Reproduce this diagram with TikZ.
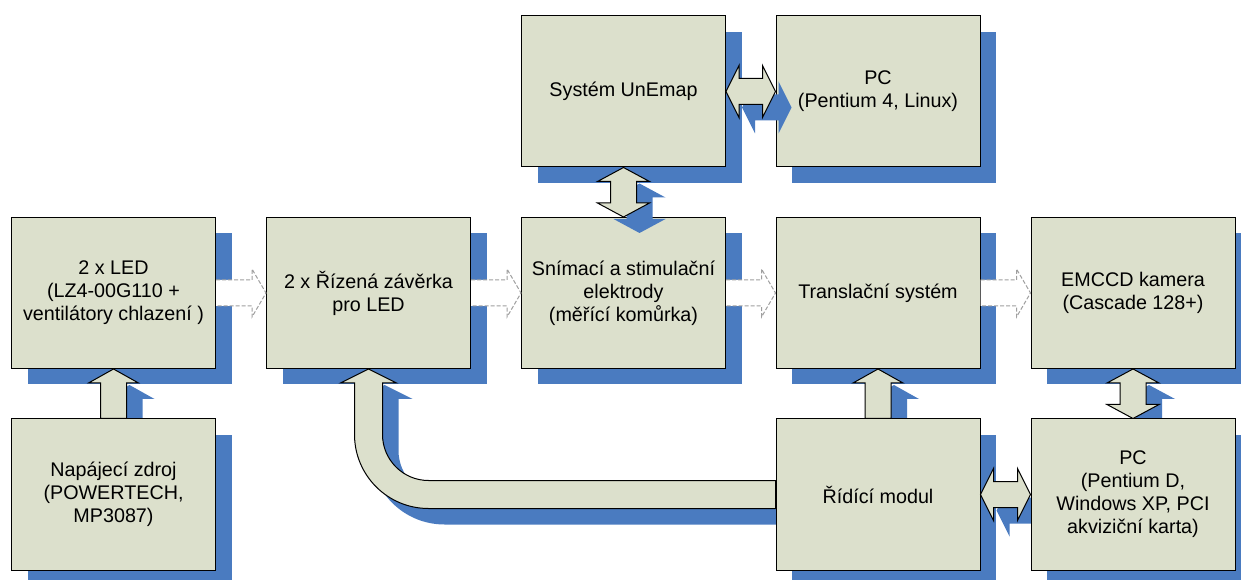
\documentclass[tikz,border=0pt]{standalone}
\usepackage{fontspec}
\setmainfont{Liberation Sans}
\usetikzlibrary{calc,shadows}
\definecolor{boxfill}{RGB}{220,224,204}
\definecolor{shadowblue}{RGB}{74,123,192}
\pgfdeclarelayer{base}
\pgfdeclarelayer{arrA}
\pgfdeclarelayer{mid}
\pgfdeclarelayer{arrB}
\pgfsetlayers{base,arrA,mid,arrB,main}
\newcommand\shadowed[1]{%
  \begin{scope}[transform canvas={shift={(12pt,-12pt)}}]\fill[shadowblue] #1;\end{scope}%
  \filldraw[blk] #1;}
\begin{document}
\begin{tikzpicture}[x=0.75pt,y=-0.75pt,
  box/.style={draw=black, line width=0.75pt, fill=boxfill,
    minimum width=153pt, minimum height=113.25pt, align=center, inner sep=0pt,
    font=\fontsize{14.8}{17.25}\selectfont,
    general shadow={fill=shadowblue, shadow xshift=12pt, shadow yshift=-12pt}},
  blk/.style={draw=black, line width=0.75pt, fill=boxfill, line join=miter},
  dasharrow/.style={fill=white, draw=gray!75, dash pattern=on 3pt off 1.5pt, line width=0.75pt}]
\useasboundingbox (0,0) rectangle (1241,580);
% boxes
\begin{pgfonlayer}{base}
\node[box] (ue) at (623.5,91.5) {Systém UnEmap};
\node[box] (pc1) at (878,91.5) {PC\\(Pentium 4, Linux)};
\node[box] (led) at (113.5,293) {2 x LED\\(LZ4-00G110 +\\ventilátory chlazení )};
\node[box] (riz) at (368.5,293) {2 x Řízená závěrka\\pro LED};
\node[box] (sn) at (623.5,293) {Snímací a stimulační\\elektrody\\(měřící komůrka)};
\node[box] (tr) at (878,293) {Translační systém};
\node[box] (em) at (1133,293) {EMCCD kamera\\(Cascade 128+)};
\end{pgfonlayer}
\begin{pgfonlayer}{mid}
\node[box] (nap) at (113.5,494.5) {Napájecí zdroj\\(POWERTECH,\\MP3087)};
\node[box] (rid) at (878,494.5) {Řídící modul};
\end{pgfonlayer}
\node[box] (pc2) at (1133,494.5) {PC\\(Pentium D,\\Windows XP, PCI\\akviziční karta)};
\coordinate (cc) at ($(riz.south |- rid.west)+(60,-60)$);
% arrows under the lower boxes
\begin{pgfonlayer}{arrA}
\shadowed{(ue.east) -- ++(13,-26) -- ++(0,13) -- ($(pc1.west)+(-13,-13)$) -- ++(0,-13) -- (pc1.west) -- ++(-13,26) -- ++(0,-13) -- ($(ue.east)+(13,13)$) -- ++(0,13) -- cycle}
\shadowed{(ue.south) -- ++(26,14) -- ++(-13,0) -- ($(sn.north)+(13,-14)$) -- ++(13,0) -- (sn.north) -- ++(-26,-14) -- ++(13,0) -- ($(ue.south)+(-13,14)$) -- ++(-13,0) -- cycle}
\shadowed{($(nap.north)+(-13,0)$) -- ($(led.south)+(-13,14)$) -- ++(-12,0) -- (led.south) -- ++(25,14) -- ++(-12,0) -- ($(nap.north)+(13,0)$) -- cycle}
\shadowed{($(rid.north)+(-13,0)$) -- ($(tr.south)+(-13,14)$) -- ++(-12,0) -- (tr.south) -- ++(25,14) -- ++(-12,0) -- ($(rid.north)+(13,0)$) -- cycle}
\shadowed{($(rid.west)+(0,-14)$) -- ($(cc)+(0,46)$) .. controls ($(cc)+(-25.4,46)$) and ($(cc)+(-46,25.4)$) .. ($(cc)+(-46,0)$) -- ($(riz.south)+(14,14)$) -- ++(14,0) -- (riz.south) -- ++(-28,14) -- ++(14,0) -- ($(cc)+(-74,0)$) .. controls ($(cc)+(-74,40.9)$) and ($(cc)+(-40.9,74)$) .. ($(cc)+(0,74)$) -- ($(rid.west)+(0,14)$) -- cycle}
\shadowed{(em.south) -- ++(26,14) -- ++(-13,0) -- ($(pc2.north)+(13,-14)$) -- ++(13,0) -- (pc2.north) -- ++(-26,-14) -- ++(13,0) -- ($(em.south)+(-13,14)$) -- ++(-13,0) -- cycle}
\filldraw[dasharrow] ($(led.east)+(0,-13)$) -- ($(riz.west)+(-14,-13)$) -- ++(0,-11) -- (riz.west) -- ++(-14,24) -- ++(0,-11) -- ($(led.east)+(0,13)$);
\filldraw[dasharrow] ($(riz.east)+(0,-13)$) -- ($(sn.west)+(-14,-13)$) -- ++(0,-11) -- (sn.west) -- ++(-14,24) -- ++(0,-11) -- ($(riz.east)+(0,13)$);
\filldraw[dasharrow] ($(sn.east)+(0,-13)$) -- ($(tr.west)+(-14,-13)$) -- ++(0,-11) -- (tr.west) -- ++(-14,24) -- ++(0,-11) -- ($(sn.east)+(0,13)$);
\filldraw[dasharrow] ($(tr.east)+(0,-13)$) -- ($(em.west)+(-14,-13)$) -- ++(0,-11) -- (em.west) -- ++(-14,24) -- ++(0,-11) -- ($(tr.east)+(0,13)$);
\end{pgfonlayer}
\begin{pgfonlayer}{arrB}
\shadowed{(rid.east) -- ++(13,-26) -- ++(0,13) -- ($(pc2.west)+(-13,-13)$) -- ++(0,-13) -- (pc2.west) -- ++(-13,26) -- ++(0,-13) -- ($(rid.east)+(13,13)$) -- ++(0,13) -- cycle}
\end{pgfonlayer}
\end{tikzpicture}
\end{document}
